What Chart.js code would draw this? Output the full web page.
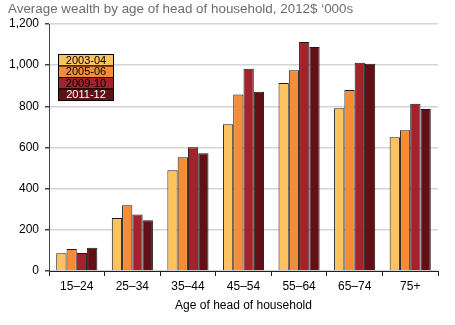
<!DOCTYPE html>
<html>
<head>
<meta charset="utf-8">
<script src="https://cdn.jsdelivr.net/npm/chart.js@4"></script>
<style>
  body { margin: 0; background: #fff; }
  #wrap { width: 455px; height: 325px; }
</style>
</head>
<body>
<div id="wrap"><canvas id="wealthChart"></canvas></div>
<script>
const ageGroups = ['15–24', '25–34', '35–44', '45–54', '55–64', '65–74', '75+'];
const years = ['2003-04', '2005-06', '2009-10', '2011-12'];
const wealth0304 = [86, 257, 490, 713, 913, 791, 650];
const wealth0506 = [107, 320, 553, 858, 975, 879, 684];
const wealth0910 = [87, 275, 601, 983, 1112, 1012, 813];
const wealth1112 = [113, 246, 572, 871, 1088, 1007, 787];
const yTicks = [0, 200, 400, 600, 800, 1000, 1200];

const barColors = ['#FEC35C', '#F68D36', '#A3222B', '#611116'];
const legendText = ['#000', '#000', '#000', '#fff'];
const font = 'Liberation Sans, Arial, sans-serif';

// title and the boxed legend are drawn by hand
const extras = {
    id: 'extras',
    afterDraw(chart) {
        const ctx = chart.ctx;
        ctx.save();
        ctx.fillStyle = '#6d6d6d';
        ctx.font = '13.4px ' + font;
        ctx.textBaseline = 'top';
        ctx.textAlign = 'left';
        ctx.fillText('Average wealth by age of head of household, 2012$ \u2018000s', 8, 3);

        const x = 58.5, w = 55, h = 11.5;
        let y = 54.5;
        ctx.font = '11px ' + font;
        ctx.textAlign = 'center';
        ctx.textBaseline = 'middle';
        chart.data.datasets.forEach((ds, i) => {
            ctx.fillStyle = ds.backgroundColor;
            ctx.fillRect(x, y, w, h);
            ctx.strokeStyle = '#000';
            ctx.lineWidth = 1;
            ctx.strokeRect(x, y, w, h);
            ctx.fillStyle = legendText[i];
            ctx.fillText(ds.label, x + w / 2, y + h / 2 + 0.5);
            y += h;
        });
        ctx.restore();
    }
};

const series = [wealth0304, wealth0506, wealth0910, wealth1112];

new Chart(document.getElementById('wealthChart'), {
    type: 'bar',
    data: {
        labels: ageGroups,
        datasets: series.map((d, i) => ({
            label: years[i],
            data: d,
            backgroundColor: barColors[i],
            borderColor: '#1a1a1a',
            borderWidth: 1,
            categoryPercentage: 0.74,
            barPercentage: 1
        }))
    },
    options: {
        responsive: true,
        maintainAspectRatio: false,
        animation: false,
        layout: { padding: { top: 24, right: 17, left: 0, bottom: 12 } },
        plugins: {
            legend: { display: false },
            title: { display: false },
            tooltip: { enabled: false }
        },
        scales: {
            x: {
                afterFit(scale) { scale.height = 42; },
                grid: {
                    offset: true,
                    drawOnChartArea: false,
                    drawTicks: true,
                    tickLength: 5,
                    tickColor: '#222'
                },
                border: { color: '#222', width: 1 },
                ticks: { color: '#000', font: { family: font, size: 12 }, padding: 3 },
                title: {
                    display: true,
                    text: 'Age of head of household',
                    color: '#000',
                    font: { family: font, size: 12 },
                    padding: { top: 2, bottom: 0 }
                }
            },
            y: {
                min: 0,
                max: 1200,
                afterFit(scale) { scale.width = 49; },
                afterBuildTicks(scale) { scale.ticks = yTicks.map(v => ({ value: v })); },
                grid: {
                    color: '#d4d4d4',
                    lineWidth: 1.5,
                    tickLength: 4,
                    tickColor: '#444'
                },
                border: { color: '#444', width: 1 },
                ticks: {
                    color: '#000',
                    font: { family: font, size: 12 },
                    padding: 6,
                    callback: v => v.toLocaleString('en-US')
                }
            }
        }
    },
    plugins: [extras]
});
</script>
</body>
</html>
